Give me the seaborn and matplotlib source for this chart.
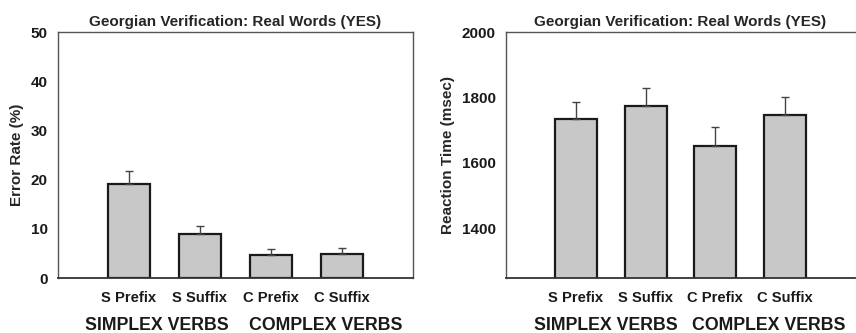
import matplotlib
matplotlib.use("Agg")
import matplotlib.pyplot as plt
import seaborn as sns
import pandas as pd

categories = ["S Prefix", "S Suffix", "C Prefix", "C Suffix"]
error_rate = [19.2, 9.0, 4.7, 4.9]
error_rate_err = [2.5, 1.5, 1.1, 1.1]
reaction_time = [1733, 1773, 1650, 1745]
reaction_time_err = [52, 57, 60, 57]
group_labels = ["SIMPLEX VERBS", "COMPLEX VERBS"]
title = "Georgian Verification: Real Words (YES)"

sns.set_style("white")
plt.rcParams['font.family'] = ['Liberation Sans', 'DejaVu Sans']
plt.rcParams['font.weight'] = 'bold'

fig = plt.figure(figsize=(8.56, 3.33), dpi=100)
ax1 = fig.add_axes([58/856, 1-278/333, 355/856, 246/333])
ax2 = fig.add_axes([506/856, 1-278/333, 349/856, 246/333])

bar_color = "#c8c8c9"
spine_color = "#555555"

def draw(ax, vals, errs, ylabel, ylim, yticks, show_right):
    df = pd.DataFrame({"cat": categories, "val": vals})
    sns.barplot(data=df, x="cat", y="val", ax=ax, color=bar_color,
                edgecolor="#1a1a1a", linewidth=1.6, width=0.6, saturation=1)
    xs = range(len(categories))
    ax.errorbar(xs, vals, yerr=[[0]*len(vals), errs], fmt="none",
                ecolor="#444444", elinewidth=1.0, capsize=2.7, capthick=1.0, zorder=1)
    ax.set_xlim(-1, 4)
    ax.set_ylim(*ylim)
    ax.set_yticks(yticks)
    ax.set_xlabel("")
    ax.set_ylabel(ylabel, fontsize=11, fontweight="bold", labelpad=5)
    ax.set_title(title, fontsize=11, fontweight="bold", pad=4)
    for s in ["left", "top", "right", "bottom"]:
        ax.spines[s].set_color(spine_color)
        ax.spines[s].set_linewidth(1.0)
    ax.spines["bottom"].set_color("#333333")
    ax.spines["bottom"].set_linewidth(1.3)
    ax.spines["right"].set_visible(show_right)
    ax.tick_params(axis="both", direction="out", length=4, width=1.0,
                   color=spine_color, labelsize=11)
    ax.tick_params(axis="x", labelsize=10.6, pad=5)
    for lbl in ax.get_xticklabels() + ax.get_yticklabels():
        lbl.set_fontweight("bold")
        lbl.set_color("#1a1a1a")
    return ax

draw(ax1, error_rate, error_rate_err, "Error Rate (%)", (0, 50), [0, 10, 20, 30, 40, 50], True)
draw(ax2, reaction_time, reaction_time_err, "Reaction Time (msec)", (1247, 2000), [1400, 1600, 1800, 2000], False)

for ax, (xa, xb) in [(ax1, (0.39, 2.77)), (ax2, (0.43, 2.77))]:
    tr = ax.get_xaxis_transform()
    ax.text(xa, -0.195, group_labels[0], transform=tr, ha="center", va="center",
            fontsize=12.8, fontweight="bold", color="#1a1a1a")
    ax.text(xb, -0.195, group_labels[1], transform=tr, ha="center", va="center",
            fontsize=12.8, fontweight="bold", color="#1a1a1a")

fig.savefig("out.png", dpi=100)
